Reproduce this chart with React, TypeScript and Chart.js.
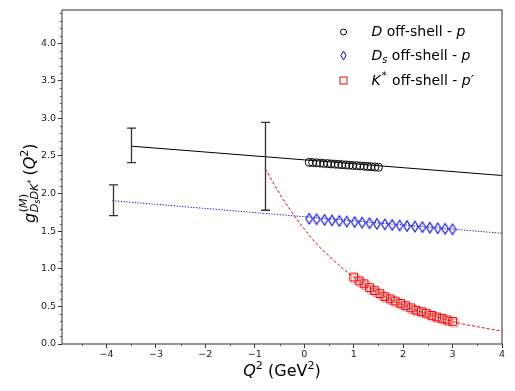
import React, { useEffect, useRef } from 'react';
import { Chart, registerables } from 'chart.js';
Chart.register(...registerables);

// ---- axis ticks ----
const X_TICKS = [-4, -3, -2, -1, 0, 1, 2, 3, 4];
const X_MINOR = [-4.5, -3.5, -2.5, -1.5, -0.5, 0.5, 1.5, 2.5, 3.5];
const Y_TICKS = [0, 0.5, 1, 1.5, 2, 2.5, 3, 3.5, 4];
const Y_MINOR = [0.1, 0.2, 0.3, 0.4, 0.6, 0.7, 0.8, 0.9, 1.1, 1.2, 1.3, 1.4, 1.6, 1.7, 1.8, 1.9, 2.1, 2.2, 2.3, 2.4, 2.6, 2.7, 2.8, 2.9, 3.1, 3.2, 3.3, 3.4, 3.6, 3.7, 3.8, 3.9, 4.1, 4.2, 4.3, 4.4];

// ---- D off-shell (black) ----
const dFitX = [-3.5, -2, 0, 2, 4];
const dFitY = [2.63, 2.552, 2.448, 2.344, 2.24];
const dPtsX = [0.1, 0.17, 0.25, 0.32, 0.39, 0.47, 0.54, 0.62, 0.69, 0.76, 0.84, 0.91, 0.98, 1.06, 1.13, 1.21, 1.28, 1.35, 1.43, 1.5];
const dPtsY = [2.415, 2.412, 2.408, 2.405, 2.401, 2.398, 2.394, 2.391, 2.388, 2.384, 2.381, 2.377, 2.374, 2.37, 2.367, 2.364, 2.36, 2.357, 2.353, 2.35];

// ---- Ds off-shell (blue) ----
const dsFitX = [-3.88, -2, 0, 2, 4];
const dsFitY = [1.905, 1.802, 1.692, 1.582, 1.472];
const dsPtsX = [0.1, 0.25, 0.41, 0.56, 0.71, 0.86, 1.02, 1.17, 1.32, 1.47, 1.63, 1.78, 1.93, 2.08, 2.24, 2.39, 2.54, 2.7, 2.85, 3.0];
const dsPtsY = [1.665, 1.658, 1.65, 1.643, 1.635, 1.628, 1.621, 1.613, 1.606, 1.598, 1.591, 1.584, 1.576, 1.569, 1.561, 1.554, 1.547, 1.539, 1.532, 1.525];

// ---- K* off-shell (red) ----
const kFitX = [-0.79, -0.5, -0.25, 0, 0.25, 0.5, 0.75, 1, 1.25, 1.5, 1.75, 2, 2.25, 2.5, 2.75, 3, 3.25, 3.5, 3.75, 4];
const kFitY = [2.33, 2.0, 1.75, 1.53, 1.33, 1.17, 1.02, 0.89, 0.78, 0.68, 0.59, 0.52, 0.45, 0.4, 0.35, 0.3, 0.26, 0.23, 0.2, 0.17];
const kPtsX = [1.0, 1.11, 1.21, 1.32, 1.42, 1.53, 1.63, 1.74, 1.84, 1.95, 2.05, 2.16, 2.26, 2.37, 2.47, 2.58, 2.68, 2.79, 2.89, 3.0];
const kPtsY = [0.89, 0.84, 0.8, 0.75, 0.71, 0.67, 0.63, 0.6, 0.57, 0.54, 0.51, 0.48, 0.45, 0.43, 0.41, 0.38, 0.36, 0.34, 0.32, 0.3];

// ---- error bars at the fit anchors ----
const errX = [-3.87, -3.5, -0.79];
const errLo = [1.707, 2.41, 1.778];
const errHi = [2.116, 2.87, 2.947];

const FONT = '"DejaVu Sans", "Liberation Sans", sans-serif';

type Seg = { t?: string; it?: boolean; sz?: number; dy?: number; gap?: number };

function setFont(ctx: CanvasRenderingContext2D, it: boolean | undefined, size: number) {
  ctx.font = `${it ? 'italic ' : ''}${size}px ${FONT}`;
}

function richWidth(ctx: CanvasRenderingContext2D, segs: Seg[], base: number) {
  let w = 0;
  for (const s of segs) {
    if (s.gap) { w += s.gap; continue; }
    setFont(ctx, s.it, s.sz ?? base);
    w += ctx.measureText(s.t || '').width;
  }
  return w;
}

function drawRich(ctx: CanvasRenderingContext2D, segs: Seg[], x: number, y: number, base: number) {
  let cx = x;
  for (const s of segs) {
    if (s.gap) { cx += s.gap; continue; }
    setFont(ctx, s.it, s.sz ?? base);
    ctx.fillText(s.t || '', cx, y + (s.dy ?? 0));
    cx += ctx.measureText(s.t || '').width;
  }
  return cx;
}

function makeDiamond(color: string, hw: number, hh: number) {
  const c = document.createElement('canvas');
  const w = Math.ceil(hw * 2 + 3);
  const h = Math.ceil(hh * 2 + 3);
  c.width = w; c.height = h;
  const g = c.getContext('2d')!;
  const cx = w / 2, cy = h / 2;
  g.strokeStyle = color;
  g.lineWidth = 1.1;
  g.beginPath();
  g.moveTo(cx, cy - hh);
  g.lineTo(cx + hw, cy);
  g.lineTo(cx, cy + hh);
  g.lineTo(cx - hw, cy);
  g.closePath();
  g.stroke();
  return c;
}

const pts = (xs: number[], ys: number[]) => xs.map((x, i) => ({ x, y: ys[i] }));

export default function App() {
  const ref = useRef<HTMLCanvasElement>(null);

  useEffect(() => {
    document.body.style.margin = '0';
    const canvas = ref.current!;
    const diamond = makeDiamond('#0000ff', 3.3, 5.2);

    const overlay = {
      id: 'overlay',
      beforeDatasetDraw(chart: any, args: any) {
        if (args.index === 2) {
          const ctx: CanvasRenderingContext2D = chart.ctx;
          ctx.save();
          ctx.shadowColor = 'rgba(255,0,0,0.4)';
          ctx.shadowOffsetX = 1.7;
          ctx.shadowOffsetY = 1.7;
          ctx.shadowBlur = 0;
        }
      },
      afterDatasetDraw(chart: any, args: any) {
        if (args.index === 2) chart.ctx.restore();
      },
      afterDatasetsDraw(chart: any) {
        const ctx: CanvasRenderingContext2D = chart.ctx;
        const xs = chart.scales.x, ys = chart.scales.y;
        ctx.save();
        ctx.strokeStyle = '#333333';
        ctx.lineWidth = 1.3;
        errX.forEach((v, i) => {
          const px = Math.round(xs.getPixelForValue(v)) + 0.5;
          const y1 = ys.getPixelForValue(errLo[i]);
          const y2 = ys.getPixelForValue(errHi[i]);
          ctx.beginPath();
          ctx.moveTo(px, y1); ctx.lineTo(px, y2);
          ctx.moveTo(px - 4.5, y1); ctx.lineTo(px + 4.5, y1);
          ctx.moveTo(px - 4.5, y2); ctx.lineTo(px + 4.5, y2);
          ctx.stroke();
        });
        ctx.restore();
      },
      afterDraw(chart: any) {
        const ctx: CanvasRenderingContext2D = chart.ctx;
        const a = chart.chartArea;
        const xs = chart.scales.x, ys = chart.scales.y;
        ctx.save();
        // frame
        ctx.strokeStyle = '#444444';
        ctx.lineWidth = 1.1;
        ctx.strokeRect(a.left, a.top, a.right - a.left, a.bottom - a.top);
        // minor ticks
        ctx.lineWidth = 0.8;
        ctx.beginPath();
        X_MINOR.forEach((v) => {
          const px = Math.round(xs.getPixelForValue(v)) + 0.5;
          ctx.moveTo(px, a.bottom); ctx.lineTo(px, a.bottom + 2.2);
        });
        Y_MINOR.forEach((v) => {
          const py = Math.round(ys.getPixelForValue(v)) + 0.5;
          ctx.moveTo(a.left, py); ctx.lineTo(a.left - 2.2, py);
        });
        ctx.stroke();

        ctx.fillStyle = '#000000';
        ctx.textBaseline = 'alphabetic';
        ctx.textAlign = 'left';

        // legend
        const mx = 343.5;
        ctx.lineWidth = 1;
        ctx.strokeStyle = '#000000';
        ctx.beginPath(); ctx.arc(mx, 32, 3, 0, Math.PI * 2); ctx.stroke();
        ctx.strokeStyle = '#0000ff';
        ctx.beginPath();
        ctx.moveTo(mx, 55.5 - 4.3); ctx.lineTo(mx + 2.6, 55.5); ctx.lineTo(mx, 55.5 + 4.3); ctx.lineTo(mx - 2.6, 55.5); ctx.closePath();
        ctx.stroke();
        ctx.strokeStyle = '#ff0000';
        ctx.strokeRect(mx - 3.5, 80.5 - 3.5, 7, 7);

        const lx = 371.5;
        const b = 14;
        drawRich(ctx, [{ t: 'D', it: true }, { t: ' off-shell - ' }, { t: 'p', it: true }], lx, 35.5, b);
        drawRich(ctx, [{ t: 'D', it: true }, { t: 's', it: true, sz: 9.8, dy: 3 }, { t: ' off-shell - ' }, { t: 'p', it: true }], lx, 59.5, b);
        drawRich(ctx, [{ t: 'K', it: true }, { gap: 1 }, { t: '*', sz: 9.8, dy: -6 }, { gap: 5.5 }, { t: 'off-shell - ' }, { t: 'p\u2032', it: true }], lx, 84.5, b);

        // x axis title
        const xl: Seg[] = [{ t: 'Q', it: true }, { t: '2', sz: 11.2, dy: -7 }, { t: ' (GeV' }, { t: '2', sz: 11.2, dy: -7 }, { t: ')' }];
        const xw = richWidth(ctx, xl, 16);
        drawRich(ctx, xl, (a.left + a.right) / 2 - xw / 2, 376, 16);

        // y axis title (rotated)
        ctx.save();
        ctx.translate(34.5, 223);
        ctx.rotate(-Math.PI / 2);
        let cx = drawRich(ctx, [{ t: 'g', it: true }], 0, 0, 16);
        const x0 = cx + 0.5;
        const e1 = drawRich(ctx, [{ t: '(', sz: 11.2 }, { t: 'M', it: true, sz: 11.2 }, { t: ')', sz: 11.2 }], x0, -7.5, 16);
        const e2 = drawRich(ctx, [
          { t: 'D', it: true, sz: 11.2 },
          { t: 's', it: true, sz: 8, dy: 2 },
          { t: 'D', it: true, sz: 11.2 },
          { t: 'K', it: true, sz: 11.2 },
          { t: '*', sz: 8, dy: -4.5 },
        ], x0, 3.5, 16);
        cx = Math.max(e1, e2) + 4;
        drawRich(ctx, [{ t: '(' }, { t: 'Q', it: true }, { t: '2', sz: 11.2, dy: -7 }, { t: ')' }], cx, 0, 16);
        ctx.restore();

        ctx.restore();
      },
    };

    const chart = new Chart(canvas, {
      type: 'scatter',
      data: {
        datasets: [
          { data: pts(dPtsX, dPtsY), pointStyle: 'circle', pointRadius: 4, borderColor: '#000000', backgroundColor: 'rgba(0,0,0,0)', borderWidth: 1, showLine: false, order: 0 } as any,
          { data: pts(dsPtsX, dsPtsY), pointStyle: diamond, pointRadius: 4, borderColor: '#0000ff', backgroundColor: 'rgba(0,0,0,0)', showLine: false, order: 0 } as any,
          { data: pts(kPtsX, kPtsY), pointStyle: 'rect', pointRadius: 5.5, borderColor: '#ff0000', backgroundColor: 'rgba(0,0,0,0)', borderWidth: 1, showLine: false, order: 0 } as any,
          { data: pts(dFitX, dFitY), showLine: true, pointRadius: 0, borderColor: '#000000', borderWidth: 1, order: 1 } as any,
          { data: pts(dsFitX, dsFitY), showLine: true, pointRadius: 0, borderColor: '#0000ff', borderWidth: 1, borderDash: [1.2, 1.6], order: 1 } as any,
          { data: pts(kFitX, kFitY), showLine: true, pointRadius: 0, borderColor: '#ff0000', borderWidth: 1, borderDash: [3, 2], cubicInterpolationMode: 'monotone', order: 1 } as any,
        ],
      },
      options: {
        responsive: false,
        animation: false,
        devicePixelRatio: 1,
        events: [],
        layout: { padding: { top: 10, right: 13, left: 0, bottom: 0 } },
        plugins: { legend: { display: false }, tooltip: { enabled: false } },
        scales: {
          x: {
            type: 'linear',
            min: -4.9,
            max: 4,
            afterBuildTicks: (s: any) => { s.ticks = X_TICKS.map((v) => ({ value: v })); },
            afterFit: (s: any) => { s.height = 47; },
            ticks: {
              font: { family: FONT, size: 9.5 },
              color: '#222222',
              padding: 1,
              maxRotation: 0,
              callback: (v: any) => (Number(v) < 0 ? '\u2212' + Math.abs(Number(v)) : String(v)),
            },
            grid: { drawOnChartArea: false, drawTicks: true, tickLength: 4, color: '#333333', lineWidth: 1 },
            border: { display: false },
          },
          y: {
            type: 'linear',
            min: 0,
            max: 4.44,
            afterBuildTicks: (s: any) => { s.ticks = Y_TICKS.map((v) => ({ value: v })); },
            afterFit: (s: any) => { s.width = 62; },
            ticks: {
              font: { family: FONT, size: 9.5 },
              color: '#222222',
              padding: 2,
              callback: (v: any) => Number(v).toFixed(1),
            },
            grid: { drawOnChartArea: false, drawTicks: true, tickLength: 4, color: '#333333', lineWidth: 1 },
            border: { display: false },
          },
        },
      },
      plugins: [overlay],
    } as any);

    return () => chart.destroy();
  }, []);

  return (
    <div style={{ position: 'absolute', left: 0, top: 0, width: 515, height: 391, background: '#ffffff' }}>
      <canvas ref={ref} width={515} height={391} style={{ width: 515, height: 391, display: 'block' }} />
    </div>
  );
}
